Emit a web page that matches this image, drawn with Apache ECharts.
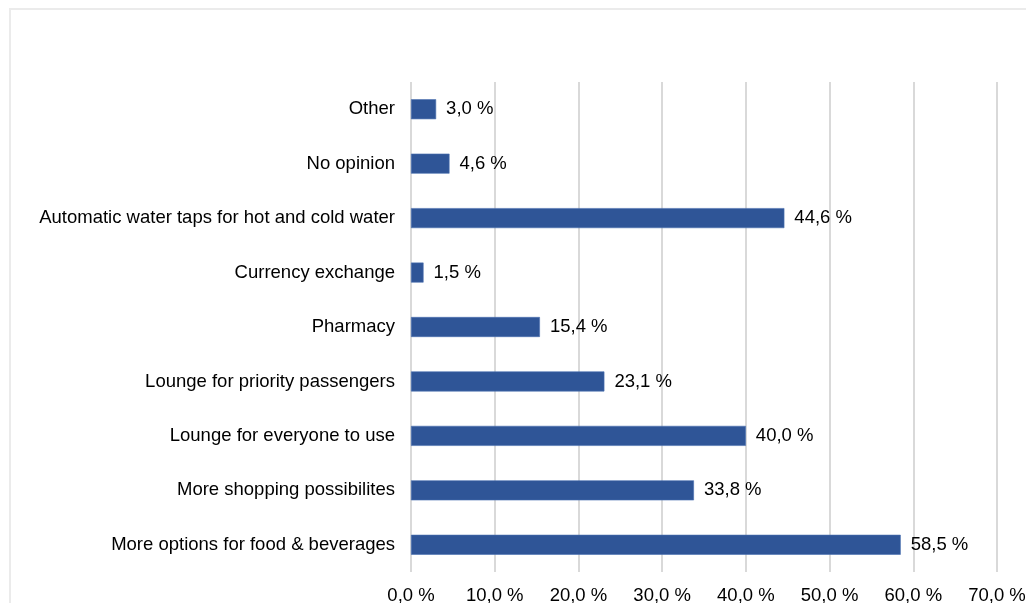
<!DOCTYPE html>
<html>
<head>
<meta charset="utf-8">
<script src="https://cdn.jsdelivr.net/npm/echarts@6/dist/echarts.min.js"></script>
<style>
  html, body { margin: 0; padding: 0; background: #ffffff; }
  #chart { width: 1026px; height: 603px; }
</style>
</head>
<body>
<div id="chart"></div>
<script>
// Survey answers, listed bottom to top as they appear on the category axis
const categories = [
  'More options for food & beverages',
  'More shopping possibilites',
  'Lounge for everyone to use',
  'Lounge for priority passengers',
  'Pharmacy',
  'Currency exchange',
  'Automatic water taps for hot and cold water',
  'No opinion',
  'Other'
];
const shares = [58.5, 33.8, 40.0, 23.1, 15.4, 1.5, 44.6, 4.6, 3.0];
const axisTicks = [0, 10, 20, 30, 40, 50, 60, 70];

const pct = v => v.toFixed(1).replace('.', ',') + ' %';
const FONT = 'Liberation Sans, Arial, Helvetica, sans-serif';
const FONT_SIZE = 18.5;

const chart = echarts.init(document.getElementById('chart'), null, { renderer: 'canvas' });
chart.setOption({
  backgroundColor: '#ffffff',
  animation: false,
  graphic: [{
    type: 'rect',
    shape: { x: 10, y: 9, width: 1040, height: 620 },
    style: { fill: 'none', stroke: '#ebebeb', lineWidth: 2 },
    silent: true,
    z: -10
  }],
  grid: {
    left: 411, right: 29, top: 82, bottom: 31,
    containLabel: false,
    outerBoundsMode: 'none'
  },
  xAxis: {
    type: 'value',
    min: axisTicks[0],
    max: axisTicks[axisTicks.length - 1],
    interval: 10,
    axisLine: { show: false },
    axisTick: { show: false },
    splitLine: { show: true, lineStyle: { color: '#d9d9d9', width: 2 } },
    axisLabel: {
      color: '#000000',
      fontFamily: FONT,
      fontSize: FONT_SIZE,
      margin: 14,
      formatter: v => pct(v)
    }
  },
  yAxis: {
    type: 'category',
    data: categories,
    axisLine: { show: false },
    axisTick: { show: false },
    axisLabel: {
      color: '#000000',
      fontFamily: FONT,
      fontSize: FONT_SIZE,
      margin: 16
    }
  },
  series: [{
    type: 'bar',
    data: shares,
    barWidth: 20,
    itemStyle: { color: '#2f5597', borderColor: '#4a70b0', borderWidth: 0.6 },
    label: {
      show: true,
      position: 'right',
      distance: 10,
      color: '#000000',
      fontFamily: FONT,
      fontSize: FONT_SIZE,
      formatter: p => pct(p.value)
    }
  }]
});
</script>
</body>
</html>
